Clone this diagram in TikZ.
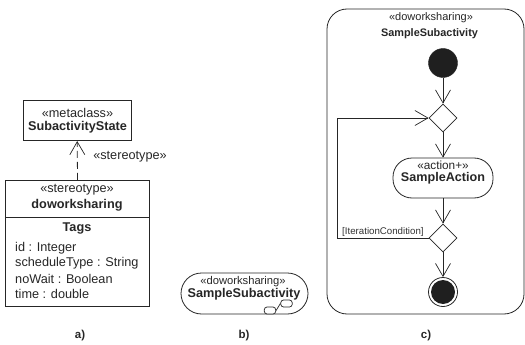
\documentclass[tikz,border=0pt]{standalone}
\usepackage{fontspec}
\setmainfont{Liberation Sans}
\usetikzlibrary{shapes.geometric,arrows.meta}
\tikzset{
  x=1pt,y=-1pt,
  ln/.style={draw=black!85,line width=0.8pt},
  txt/.style={inner sep=0pt,font=\fontsize{12.7}{14}\selectfont,text=black!85},
  bold/.style={txt,font=\fontsize{12.7}{14}\selectfont\bfseries},
  small/.style={inner sep=0pt,font=\fontsize{9.7}{11}\selectfont,text=black!80},
  caption/.style={inner sep=0pt,font=\fontsize{11.5}{13}\selectfont\bfseries,text=black!85},
  openhead/.style={-{Straight Barb[length=13pt,width=15pt,line width=0.7pt]}},
  dia/.style={diamond,ln,fill=white,minimum width=28pt,minimum height=28pt,inner sep=0pt,aspect=1},
  boxn/.style={rectangle,ln,inner sep=0pt},
  lane/.style={draw=black!85,line width=0.7pt,fill=white,rounded corners=2.8pt,minimum width=11.5pt,minimum height=7pt,inner sep=0pt},
}
\begin{document}
\begin{tikzpicture}
\useasboundingbox (0,0) rectangle (525,345);
% a)
\node[boxn,minimum width=108.5pt,minimum height=40.5pt] (meta) at (77.2,120.4) {};
\node[txt] (metaA) at (77.5,112.5) {«metaclass»};
\node[bold] (metaB) at (77.5,127.5) {SubactivityState};
\node[boxn,minimum width=143.5pt,minimum height=126.5pt] (ster) at (77.5,243.5) {};
\coordinate (sepL) at (ster.west |- 0,217);
\coordinate (sepR) at (ster.east |- 0,217);
\draw[ln] (sepL) -- (sepR);
\draw[ln,dash pattern=on 7pt off 4pt,openhead] (ster.north) -- (meta.south);
\node[txt] (stlab) at (130,156.5) {«stereotype»};
\node[txt] (sterA) at (77,190) {«stereotype»};
\node[bold] (sterB) at (77,205) {doworksharing};
\node[bold] (tags) at (77,228) {Tags};
\node[txt,anchor=west] (t1) at (15,248) {id : Integer};
\node[txt,anchor=west] (t2) at (15,263) {scheduleType : String};
\node[txt,anchor=west] (t3) at (15,278.5) {noWait : Boolean};
\node[txt,anchor=west] (t4) at (15,294) {time : double};
\node[caption] (capa) at (80,336) {a)};
% b)
\node[boxn,rounded corners=20.5pt,minimum width=127pt,minimum height=41pt] (sub) at (244.5,293.5) {};
\node[txt,font=\fontsize{11.2}{13}\selectfont] (subA) at (243,282) {«doworksharing»};
\node[bold] (subB) at (244,294.5) {SampleSubactivity};
\node[lane] (r1) at (270,310.5) {};
\node[lane] (r2) at (286.5,303.5) {};
\draw[draw=black!85,line width=0.7pt] (r1.east) -- (r2.west);
\node[caption] (capb) at (244,336) {b)};
% c)
\node[boxn,rounded corners=20pt,minimum width=197pt,minimum height=305pt] (act) at (425.5,161.5) {};
\node[txt,font=\fontsize{11}{13}\selectfont] (actA) at (431,18) {«doworksharing»};
\node[bold,font=\fontsize{10.9}{13}\selectfont\bfseries] (actB) at (429.5,33.5) {SampleSubactivity};
\node[circle,fill=black!88,draw=black!88,minimum size=29pt,inner sep=0pt] (start) at (443,63) {};
\node[dia] (d1) at (443,118) {};
\node[boxn,rounded corners=19pt,minimum width=100pt,minimum height=40pt] (action) at (443,178) {};
\node[txt,font=\fontsize{11.8}{13}\selectfont] (acA) at (443,165.5) {«action+»};
\node[bold,font=\fontsize{12.6}{14}\selectfont\bfseries] (acB) at (443,178.5) {SampleAction};
\node[dia] (d2) at (443,238) {};
\node[circle,draw=black!85,line width=0.8pt,minimum size=29pt,inner sep=0pt] (end) at (443,292) {};
\node[circle,fill=black!88,minimum size=24pt,inner sep=0pt] (endI) at (443,292) {};
\coordinate (c1) at (337.5,238);
\coordinate (c2) at (337.5,118);
\draw[ln,openhead] (start) -- (d1);
\draw[ln,openhead] (d1) -- (action);
\draw[ln,openhead] (action) -- (d2);
\draw[ln,openhead] (d2) -- (end);
\draw[ln,openhead] (d2.west) -- (c1) -- (c2) -- (d1.west);
\node[small,anchor=west] (cond) at (342,232) {[IterationCondition]};
\node[caption] (capc) at (426,336) {c)};
\end{tikzpicture}
\end{document}
